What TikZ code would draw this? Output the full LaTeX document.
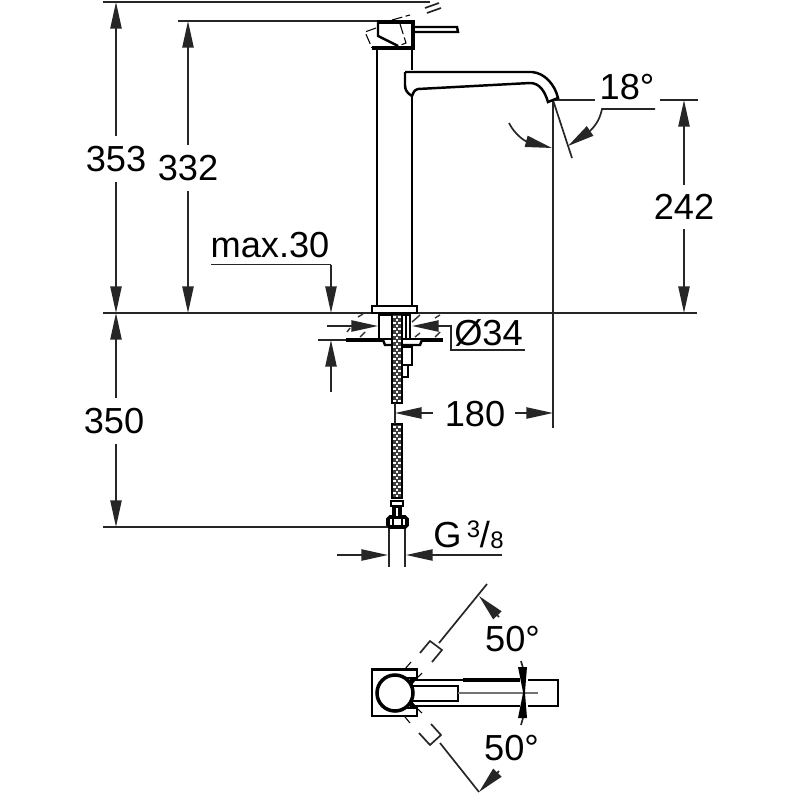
\documentclass[tikz,border=0pt]{standalone}
\usepackage{fontspec}
\setmainfont{Liberation Sans}
\usetikzlibrary{arrows.meta}

\tikzset{
    dimline/.style = {line width=0.48pt, color=black!85},
    dimtip/.style = {dimline, -{Triangle[length=7.6pt, width=3.2pt]}},
    dimtext/.style = {inner xsep=1pt, inner ysep=2.8pt, font=\fontsize{10.3}{12}\selectfont, fill=white},
    plaintext/.style = {inner sep=0pt, font=\fontsize{10.3}{12}\selectfont},
    smalltext/.style = {inner sep=0pt, font=\fontsize{6.8}{8}\selectfont},
    part/.style = {line width=0.7pt, color=black},
    heavy/.style = {line width=1pt, color=black},
    ghost/.style = {line width=0.3pt, dash pattern=on 3pt off 1pt},
    hatch/.style = {line width=0.4pt, color=black!80},
    hose/.style = {draw=black, line width=0.6pt, fill=black!75}
}

\begin{document}
\begin{tikzpicture}[x=0.01cm, y=-0.01cm]
    \useasboundingbox (0,0) rectangle (800,800);

    % reference lines
    \draw [dimline] (103,2) -- (430,2);
    \draw [dimline] (178,21) -- (378,21);
    \draw [dimline] (103,313) -- (697,313);
    \draw [dimline] (103,527) -- (389,527);
    \draw [dimline] (555,100) -- (595,100);
    \draw [dimline] (660,100) -- (698,100);
    \draw [dimline] (553,100) -- (553,428);
    \draw [dimline] (318,340) -- (346,340);
    \draw [dimline] (425,8) -- (439,3);
    \draw [dimline] (427,13) -- (441,8);

    % heights
    \draw [dimtip] (116,157) -- (116,2);
    \draw [dimtip] (116,157) -- (116,313);
    \draw [dimtip] (116,421) -- (116,313);
    \draw [dimtip] (116,421) -- (116,527);
    \draw [dimtip] (188,168) -- (188,21);
    \draw [dimtip] (188,168) -- (188,313);
    \draw [dimtip] (684,207) -- (684,100);
    \draw [dimtip] (684,207) -- (684,313);
    \node [dimtext] (h353) at (116,159) {353};
    \node [dimtext] (h332) at (188,168) {332};
    \node [dimtext] (h350) at (114,421) {350};
    \node [dimtext] (h242) at (684,207) {242};

    % thickness of the sink
    \draw [dimline] (211,264.5) -- (331,264.5);
    \draw [dimtip] (331,264.5) -- (331,313);
    \draw [dimtip] (331,392) -- (331,340);
    \node [plaintext, anchor=base] (max) at (270,257) {max.30};

    % hole
    \draw [dimtip] (327,326) -- (378,326);
    \draw [dimtip] (438,326) -- (412,326);
    \draw [dimline] (438,326) -- (451,326) -- (451,350) -- (525,350);
    \node [plaintext, anchor=base] (hole) at (488.5,345) {Ø34};

    % reach
    \draw [dimtip] (433,413) -- (395,413);
    \draw [dimtip] (515,413) -- (553,413);
    \node [plaintext] (reach) at (475,414) {180};

    % outlet angle
    \draw [dimline] (553,100) -- (572,158);
    \draw [dimline] (655,109) -- (602,109) .. controls (600,118) and (597,124) .. (590,131);
    \draw [dimtip] (590,131) -- (568,146);
    \draw [dimtip] (509,123) .. controls (515,135) and (525,141) .. (552,148);
    \node [plaintext, anchor=base] (outlet) at (627,99) {18°};

    % connection
    \draw [dimline] (389,527) -- (389,567);
    \draw [dimline] (405,527) -- (405,567);
    \draw [dimtip] (337,555) -- (388,555);
    \draw [dimtip] (502,555) -- (406,555);
    \node [plaintext, anchor=base] (gsize) at (447.5,547) {G};
    \node [smalltext, anchor=base] (gthree) at (473.5,537) {3};
    \node [plaintext, anchor=base] (gslash) at (485,547) {/};
    \node [smalltext, anchor=base] (geight) at (497,548) {8};

    % mixer body
    \draw [part] (377,48) -- (377,306);
    \draw [part] (412,48) -- (412,70);
    \draw [part] (412,96) -- (412,306);
    \draw [part] (372,306) rectangle (417,313);
    \draw [heavy] (377,22) -- (413,22) -- (413,48) -- (372,48);
    \draw [part] (378,22) -- (378,36) -- (398,46);
    \draw [part] (413,27) -- (457,27) -- (458,32) -- (413,32);
    \draw [ghost] (376,28) -- (365,32) -- (372,48);
    \draw [ghost] (392,20) -- (410,15);
    \draw [ghost] (400,24) -- (406,43) -- (398,46);

    % spout
    \draw [part] (405,72) -- (532,72)
        .. controls (545,73) and (555,85) .. (558,98)
        -- (548,102)
        .. controls (545,92) and (540,83) .. (530,83)
        -- (418,89)
        .. controls (414,90) and (413,93) .. (412,96)
        .. controls (407,93) and (405,90) .. (405,85)
        -- (405,72);

    % sink
    \draw [heavy] (346,340) -- (443,340);
    \draw [hatch] (358,317) -- (363,314);
    \draw [hatch] (347,332) -- (350,328);
    \draw [hatch] (360,337) -- (365,332);
    \draw [hatch] (412,322) -- (420,315);
    \draw [hatch] (435,318) -- (440,315);
    \draw [hatch] (415,337) -- (420,333);
    \draw [hatch] (435,337) -- (440,332);

    % tail piece
    \draw [part] (379,315) rectangle (410,340);
    \draw [part] (406,315) -- (406,338);
    \draw [part, fill=white] (383,340) -- (385,345) -- (420,345) -- (422,340);
    \draw [part] (402,347) rectangle (412,365);
    \draw [part] (402,365) rectangle (408,377);
    \draw [hose] (392,314) rectangle (402,403);
    \draw [hose] (392,424) rectangle (402,498);
    \foreach \hy [count=\hi] in {316,319,...,400}{
        \ifodd\hi
            \fill [white] (393.4,\hy) rectangle ++(2.3,2);
            \fill [white] (398.4,\hy) rectangle ++(2.3,2);
        \else
            \fill [white] (395.9,\hy) rectangle ++(2.3,2);
        \fi
    }
    \foreach \hy [count=\hi] in {426,429,...,495}{
        \ifodd\hi
            \fill [white] (393.4,\hy) rectangle ++(2.3,2);
            \fill [white] (398.4,\hy) rectangle ++(2.3,2);
        \else
            \fill [white] (395.9,\hy) rectangle ++(2.3,2);
        \fi
    }
    \draw [dimline] (395,403) -- (395,424);
    \draw [part, fill=white] (391,501) rectangle (403,506);
    \fill [black] (392,507) rectangle (402,517);
    \draw [heavy, fill=white] (388,519) -- (390,517) -- (405,517) -- (407,519) -- (407,525) -- (405,527) -- (390,527) -- (388,525) -- cycle;
    \draw [part] (393,517) -- (393,527);
    \draw [part] (402,517) -- (402,527);
    \draw [white, line width=0.7pt] (397,508) -- (397,516);

    % top view
    \draw [part] (417,680) -- (417,669.5) -- (372,669.5) -- (372,716) -- (417,716) -- (417,706);
    \draw [part] (405,678) -- (417,678);
    \draw [part] (405,708) -- (417,708);
    \draw [heavy, fill=white] (395,693) circle [radius=18];
    \fill [black] (408,681) -- (415,681) -- (411,686) -- cycle;
    \fill [black] (408,705) -- (415,705) -- (411,700) -- cycle;
    \draw [part] (410,680) -- (463,680);
    \draw [heavy] (463,680) -- (520,680);
    \draw [part] (528,680) -- (558,680) -- (558,706) -- (528,706);
    \draw [part] (410,706) -- (520,706);
    \draw [part] (412,686) -- (458,686) -- (458,701) -- (412,701);
    \draw [dimline, black!55] (458,693) -- (538,693);
    \draw [ghost] (411,662) -- (405,669);
    \draw [ghost] (410,723) -- (405,717);
    \draw [ghost] (422,673) -- (418,677);
    \draw [ghost] (422,713) -- (418,709);

    % swivel range
    \draw [dimline] (487,584) -- (439,643);
    \draw [dimline] (420,653) -- (430,641) -- (442,650) -- (432,662);
    \draw [dimline] (440,743) -- (479,792);
    \draw [dimline] (419,733) -- (430,745) -- (441,735) -- (431,724);
    \draw [dimtip] (499,617) -- (479,596);
    \draw [dimtip] (499,771) -- (479,792);
    \node [plaintext] (rangeup) at (512.5,639) {50°};
    \node [plaintext] (rangedown) at (511.5,748) {50°};
    \draw [dimline] (521,661) -- (523,668);
    \draw [dimline] (521,725) -- (523,718);
    \fill [black] (518,667) -- (527,667) -- (525,692) -- (525,693) -- (527,718) -- (518,718) -- (523,693) -- (523,692) -- cycle;
\end{tikzpicture}
\end{document}
